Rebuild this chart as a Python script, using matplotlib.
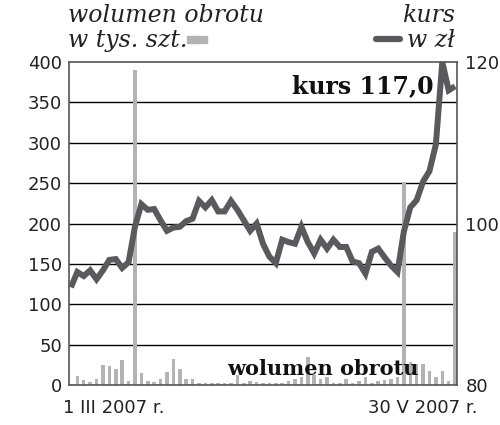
import matplotlib
matplotlib.use("Agg")
import matplotlib.pyplot as plt
import numpy as np
from matplotlib.lines import Line2D
from matplotlib.patches import Rectangle

# -----------------------
# data (daily, 1 III 2007 - 30 V 2007)
volume = [1, 11, 6, 4, 8, 25, 24, 20, 31, 5,
          390, 15, 5, 4, 7, 16, 32, 20, 8, 8,
          2, 2, 2, 3, 3, 2, 12, 3, 5, 4,
          2, 3, 3, 2, 5, 8, 10, 35, 12, 7,
          10, 2, 2, 8, 2, 5, 10, 2, 5, 6,
          8, 10, 252, 28, 26, 26, 17, 10, 18, 5,
          190]
kurs = [92.1, 94.0, 93.5, 94.2, 93.1, 94.2, 95.5, 95.6, 94.5, 95.2,
        99.6, 102.4, 101.7, 101.8, 100.4, 99.1, 99.5, 99.6, 100.3, 100.6,
        102.8, 102.0, 102.9, 101.5, 101.5, 102.8, 101.7, 100.4, 99.1, 100.0,
        97.5, 95.9, 95.1, 98.0, 97.7, 97.5, 99.6, 97.7, 96.3, 98.0,
        96.9, 98.0, 97.1, 97.1, 95.3, 95.1, 93.8, 96.5, 96.9, 95.8,
        94.8, 94.0, 99.0, 102.0, 102.9, 105.2, 106.5, 109.8, 120.0, 116.5,
        117.0]
left_ticks = [0, 50, 100, 150, 200, 250, 300, 350, 400]
right_ticks = [80, 100, 120]
date_labels = ["1 III 2007 r.", "30 V 2007 r."]
last_price = "kurs 117,0"
# -----------------------

bar_col = "#b3b3b5"
line_col = "#5a5a5e"
x = np.arange(len(volume))

fig = plt.figure(figsize=(5, 4.25), dpi=100)
ax = fig.add_axes([0.138, 0.094, 0.776, 0.760])

ax.bar(x, volume, width=0.55, color=bar_col, zorder=2)
for v in left_ticks[1:-1]:
    ax.axhline(v, color="black", lw=1.0, zorder=1)
ax.set_xlim(-0.3, len(volume) - 0.7)
ax.set_ylim(0, 400)
ax.set_yticks(left_ticks)
ax.set_xticks([])
ax.tick_params(axis="y", length=0, pad=5, labelsize=13, colors="#222222")
for s in ax.spines.values():
    s.set_color("#555555")
    s.set_linewidth(1.2)

ax2 = ax.twinx()
ax2.plot(x, kurs, color=line_col, lw=4.3, solid_joinstyle="miter",
         solid_capstyle="butt", zorder=5, clip_on=False)
ax2.set_ylim(80, 120)
ax2.set_yticks(right_ticks)
ax2.tick_params(axis="y", length=0, pad=6, labelsize=13, colors="#222222")
for s in ax2.spines.values():
    s.set_visible(False)

# date labels under the axis
fig.text(0.126, 0.040, date_labels[0], fontsize=13, ha="left", va="center", color="#222222")
fig.text(0.954, 0.040, date_labels[1], fontsize=13, ha="right", va="center", color="#222222")

# big labels inside the plot
ax.text(0.94, 0.925, last_price, transform=ax.transAxes, ha="right", va="center",
        fontsize=17, fontweight="bold", family="DejaVu Serif", color="#111111", zorder=6)
ax.text(0.90, 0.05, "wolumen obrotu", transform=ax.transAxes, ha="right", va="center",
        fontsize=15, fontweight="bold", family="DejaVu Serif", color="#111111", zorder=6)

# legend-like headings
fig.text(0.135, 0.963, "wolumen obrotu", fontsize=17, style="italic",
         family="DejaVu Serif", ha="left", va="center", color="#222222")
fig.text(0.135, 0.905, "w tys. szt.", fontsize=17, style="italic",
         family="DejaVu Serif", ha="left", va="center", color="#222222")
fig.patches.append(Rectangle((0.374, 0.900), 0.040, 0.016, transform=fig.transFigure,
                             color=bar_col))
fig.text(0.910, 0.963, "kurs", fontsize=17, style="italic",
         family="DejaVu Serif", ha="right", va="center", color="#222222")
fig.text(0.910, 0.905, "w zł", fontsize=17, style="italic",
         family="DejaVu Serif", ha="right", va="center", color="#222222")
fig.lines.append(Line2D([0.752, 0.800], [0.908, 0.908], transform=fig.transFigure,
                        color=line_col, lw=4.5, solid_capstyle="round"))

fig.savefig("out.png", dpi=100)
